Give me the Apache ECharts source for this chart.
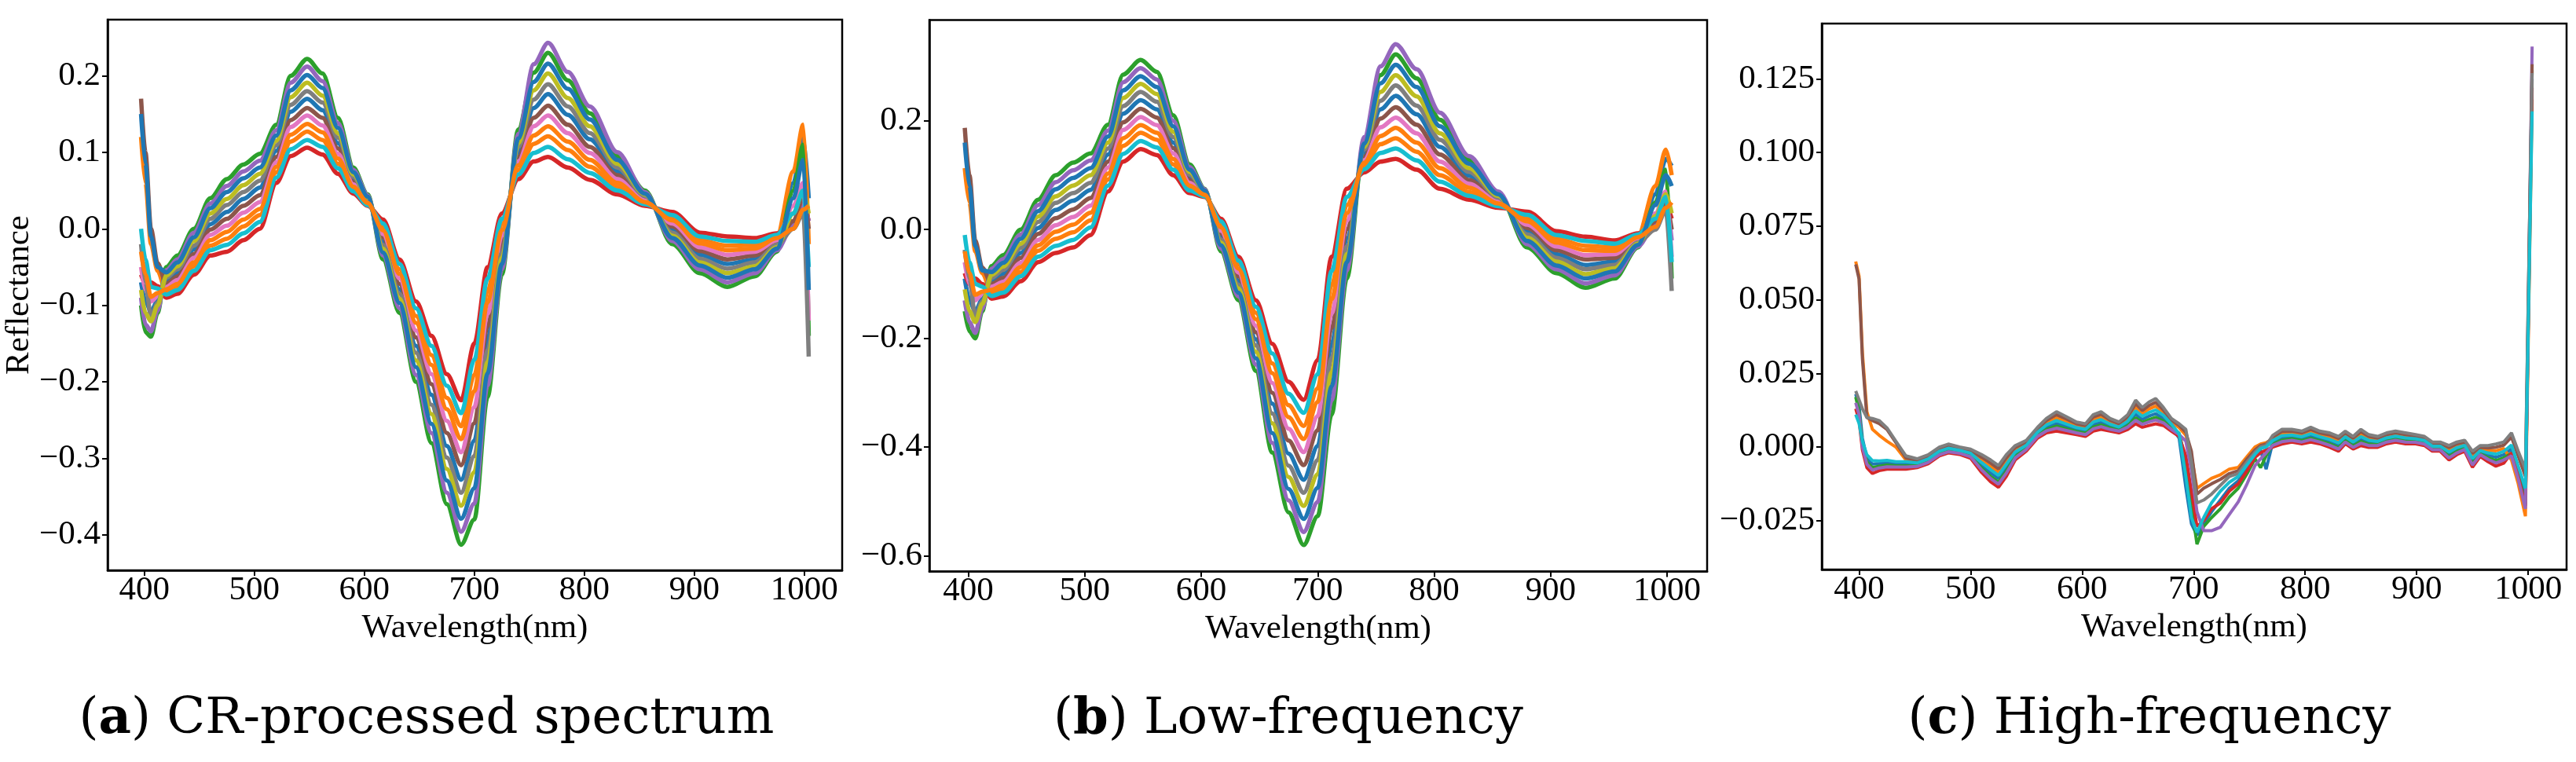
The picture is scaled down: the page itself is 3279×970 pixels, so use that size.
<!DOCTYPE html>
<html>
<head>
<meta charset="utf-8">
<script src="https://cdn.jsdelivr.net/npm/echarts@6/dist/echarts.min.js"></script>
<style>
html, body { margin: 0; padding: 0; background: #fff; }
#chart { width: 3279px; height: 970px; }
</style>
</head>
<body>
<div id="chart"></div>
<script>
// wavelength samples (nm) for the CR and low-frequency panels
var wlSmooth = [397, 401, 406, 412, 420, 430, 445, 460, 475, 490, 505, 520, 533, 548, 562, 576, 590, 603, 617, 632,
  647, 661, 675, 688, 700, 712, 725, 740, 754, 767, 785, 805, 830, 855, 880, 905, 930, 955, 975, 990, 999, 1004];
// wavelength samples (nm) for the high-frequency panel
var wlHigh = [397, 400, 403, 407, 412, 418, 425, 433, 442, 452, 462, 472, 480, 490, 500, 510, 518, 525, 532, 540,
  550, 560, 568, 577, 586, 595, 603, 610, 617, 625, 633, 641, 648, 654, 660, 666, 673, 680, 687, 693,
  698, 703, 709, 716, 724, 732, 740, 748, 755, 760, 765, 771, 779, 788, 797, 805, 813, 822, 830, 836,
  843, 850, 857, 865, 873, 881, 890, 899, 907, 914, 921, 929, 936, 943, 950, 957, 964, 971, 978, 985,
  991, 997.5, 1003.5];

var xTicks = [400, 500, 600, 700, 800, 900, 1000];
var crTicks = [-0.4, -0.3, -0.2, -0.1, 0, 0.1, 0.2];
var lowTicks = [-0.6, -0.4, -0.2, 0, 0.2];
var highTicks = [-0.025, 0, 0.025, 0.05, 0.075, 0.1, 0.125];

// (a) CR-processed spectrum, curves from shallow (cr0) to deep (cr11)
var cr0 = [-0.06, -0.072, -0.07, -0.075, -0.09, -0.085, -0.06, -0.035, -0.03, -0.015, 0.0, 0.06, 0.095, 0.106, 0.097, 0.072, 0.046, 0.03, 0.012, -0.04, -0.095, -0.14, -0.19, -0.224, -0.15, -0.05, 0.02, 0.065, 0.088, 0.094, 0.08, 0.064, 0.045, 0.03, 0.022, -0.005, -0.01, -0.012, -0.006, 0.01, 0.03, 0.01];
var cr1 = [0.0, -0.04, -0.076, -0.078, -0.086, -0.08, -0.055, -0.028, -0.021, -0.006, 0.009, 0.067, 0.104, 0.116, 0.107, 0.079, 0.049, 0.031, 0.007, -0.046, -0.104, -0.153, -0.205, -0.241, -0.171, -0.065, 0.013, 0.071, 0.099, 0.107, 0.091, 0.073, 0.05, 0.032, 0.018, -0.01, -0.016, -0.017, -0.008, 0.02, 0.05, -0.05];
var cr2 = [0.12, 0.06, -0.02, -0.055, -0.083, -0.076, -0.049, -0.022, -0.013, 0.003, 0.018, 0.074, 0.114, 0.127, 0.116, 0.085, 0.052, 0.033, 0.003, -0.053, -0.114, -0.165, -0.221, -0.258, -0.191, -0.081, 0.006, 0.077, 0.111, 0.121, 0.103, 0.081, 0.055, 0.034, 0.014, -0.015, -0.022, -0.021, -0.01, 0.075, 0.136, -0.02];
var cr3 = [-0.03, -0.06, -0.089, -0.084, -0.079, -0.072, -0.044, -0.015, -0.004, 0.012, 0.026, 0.081, 0.123, 0.137, 0.126, 0.092, 0.055, 0.034, -0.002, -0.059, -0.123, -0.178, -0.236, -0.275, -0.212, -0.096, -0.002, 0.083, 0.122, 0.134, 0.114, 0.09, 0.06, 0.035, 0.011, -0.019, -0.028, -0.026, -0.012, 0.0, 0.025, 0.03];
var cr4 = [-0.05, -0.08, -0.095, -0.088, -0.076, -0.067, -0.038, -0.008, 0.004, 0.021, 0.035, 0.087, 0.133, 0.148, 0.135, 0.098, 0.058, 0.035, -0.007, -0.065, -0.133, -0.19, -0.251, -0.292, -0.233, -0.111, -0.009, 0.088, 0.134, 0.148, 0.125, 0.099, 0.065, 0.037, 0.007, -0.024, -0.034, -0.03, -0.015, 0.03, 0.06, -0.12];
var cr5 = [0.17, 0.10, 0.0, -0.045, -0.072, -0.062, -0.033, -0.001, 0.013, 0.03, 0.044, 0.094, 0.142, 0.158, 0.145, 0.105, 0.061, 0.037, -0.011, -0.072, -0.142, -0.203, -0.267, -0.309, -0.254, -0.127, -0.016, 0.094, 0.145, 0.161, 0.136, 0.107, 0.07, 0.039, 0.003, -0.029, -0.04, -0.035, -0.017, 0.01, 0.04, 0.0];
var cr6 = [-0.07, -0.095, -0.108, -0.094, -0.068, -0.058, -0.027, 0.006, 0.022, 0.039, 0.054, 0.102, 0.153, 0.17, 0.155, 0.112, 0.065, 0.038, -0.017, -0.079, -0.153, -0.217, -0.284, -0.328, -0.277, -0.144, -0.024, 0.101, 0.158, 0.176, 0.149, 0.117, 0.075, 0.041, -0.001, -0.034, -0.046, -0.04, -0.019, 0.06, 0.12, 0.04];
var cr7 = [-0.02, -0.07, -0.115, -0.097, -0.064, -0.053, -0.022, 0.013, 0.031, 0.048, 0.063, 0.109, 0.162, 0.18, 0.165, 0.119, 0.068, 0.04, -0.021, -0.085, -0.162, -0.23, -0.299, -0.345, -0.297, -0.159, -0.031, 0.107, 0.169, 0.189, 0.16, 0.125, 0.08, 0.043, -0.005, -0.039, -0.052, -0.044, -0.021, 0.0, 0.02, -0.167];
var cr8 = [-0.08, -0.11, -0.121, -0.1, -0.061, -0.049, -0.016, 0.02, 0.039, 0.057, 0.072, 0.115, 0.172, 0.191, 0.174, 0.125, 0.071, 0.041, -0.026, -0.091, -0.172, -0.242, -0.314, -0.362, -0.318, -0.174, -0.038, 0.112, 0.181, 0.203, 0.171, 0.134, 0.085, 0.045, -0.009, -0.044, -0.058, -0.049, -0.024, 0.02, 0.05, 0.02];
var cr9 = [0.15, 0.085, -0.01, -0.05, -0.057, -0.044, -0.011, 0.027, 0.048, 0.066, 0.08, 0.122, 0.181, 0.201, 0.184, 0.132, 0.074, 0.042, -0.031, -0.097, -0.181, -0.255, -0.329, -0.379, -0.339, -0.189, -0.046, 0.118, 0.192, 0.216, 0.183, 0.143, 0.09, 0.046, -0.012, -0.048, -0.064, -0.053, -0.026, 0.04, 0.09, -0.08];
var cr10 = [-0.09, -0.125, -0.134, -0.107, -0.054, -0.04, -0.005, 0.033, 0.056, 0.075, 0.089, 0.129, 0.191, 0.212, 0.193, 0.138, 0.077, 0.044, -0.035, -0.104, -0.191, -0.267, -0.345, -0.396, -0.359, -0.205, -0.053, 0.124, 0.215, 0.243, 0.205, 0.16, 0.1, 0.048, -0.016, -0.053, -0.07, -0.058, -0.028, 0.005, 0.03, 0.01];
var cr11 = [-0.10, -0.135, -0.141, -0.11, -0.05, -0.035, 0.0, 0.04, 0.065, 0.084, 0.098, 0.136, 0.2, 0.222, 0.203, 0.145, 0.08, 0.045, -0.04, -0.11, -0.2, -0.28, -0.36, -0.413, -0.38, -0.22, -0.06, 0.13, 0.204, 0.23, 0.194, 0.151, 0.095, 0.05, -0.02, -0.058, -0.076, -0.062, -0.03, 0.05, 0.11, -0.14];

// (b) low-frequency part
var lf0 = [-0.08, -0.1, -0.09, -0.1, -0.127, -0.123, -0.095, -0.06, -0.043, -0.033, -0.01, 0.07, 0.125, 0.148, 0.137, 0.1, 0.067, 0.06, 0.02, -0.05, -0.13, -0.21, -0.28, -0.313, -0.24, -0.05, 0.075, 0.105, 0.125, 0.13, 0.11, 0.075, 0.055, 0.04, 0.033, -0.003, -0.013, -0.02, -0.007, 0.01, 0.045, 0.02];
var lf1 = [-0.01, -0.06, -0.1, -0.105, -0.122, -0.116, -0.086, -0.05, -0.03, -0.019, 0.004, 0.081, 0.139, 0.163, 0.151, 0.11, 0.072, 0.061, 0.015, -0.057, -0.142, -0.228, -0.302, -0.337, -0.266, -0.076, 0.06, 0.111, 0.141, 0.149, 0.127, 0.088, 0.062, 0.043, 0.027, -0.01, -0.021, -0.026, -0.009, 0.02, 0.06, -0.06];
var lf2 = [0.113, 0.05, -0.04, -0.08, -0.116, -0.109, -0.078, -0.039, -0.017, -0.005, 0.017, 0.092, 0.154, 0.178, 0.165, 0.12, 0.077, 0.063, 0.009, -0.064, -0.153, -0.246, -0.323, -0.361, -0.292, -0.102, 0.045, 0.117, 0.157, 0.168, 0.143, 0.1, 0.069, 0.045, 0.021, -0.017, -0.03, -0.033, -0.012, 0.08, 0.147, 0.1];
var lf3 = [-0.04, -0.08, -0.12, -0.114, -0.111, -0.102, -0.069, -0.029, -0.004, 0.009, 0.031, 0.103, 0.168, 0.192, 0.178, 0.13, 0.081, 0.064, 0.004, -0.072, -0.165, -0.264, -0.345, -0.385, -0.317, -0.128, 0.03, 0.123, 0.172, 0.187, 0.16, 0.113, 0.077, 0.048, 0.015, -0.024, -0.038, -0.039, -0.014, 0.005, 0.04, 0.05];
var lf4 = [-0.06, -0.1, -0.13, -0.118, -0.105, -0.096, -0.061, -0.019, 0.008, 0.023, 0.044, 0.114, 0.183, 0.207, 0.192, 0.14, 0.086, 0.065, -0.002, -0.079, -0.177, -0.282, -0.366, -0.409, -0.343, -0.154, 0.016, 0.128, 0.188, 0.206, 0.177, 0.125, 0.084, 0.051, 0.009, -0.031, -0.047, -0.045, -0.016, 0.03, 0.07, -0.05];
var lf5 = [0.187, 0.1, -0.02, -0.07, -0.1, -0.089, -0.052, -0.008, 0.021, 0.037, 0.058, 0.125, 0.197, 0.222, 0.206, 0.15, 0.091, 0.067, -0.007, -0.086, -0.189, -0.3, -0.388, -0.433, -0.369, -0.181, 0.001, 0.134, 0.204, 0.225, 0.193, 0.138, 0.091, 0.054, 0.003, -0.038, -0.055, -0.052, -0.019, 0.015, 0.05, 0.0];
var lf6 = [-0.09, -0.13, -0.15, -0.128, -0.094, -0.081, -0.043, 0.003, 0.036, 0.053, 0.073, 0.138, 0.213, 0.238, 0.221, 0.16, 0.096, 0.068, -0.013, -0.094, -0.202, -0.32, -0.412, -0.46, -0.398, -0.21, -0.016, 0.141, 0.221, 0.246, 0.212, 0.152, 0.099, 0.057, -0.003, -0.045, -0.065, -0.059, -0.021, 0.065, 0.13, 0.117];
var lf7 = [-0.037, -0.09, -0.16, -0.132, -0.089, -0.074, -0.034, 0.014, 0.049, 0.067, 0.086, 0.149, 0.227, 0.253, 0.235, 0.17, 0.101, 0.07, -0.018, -0.101, -0.213, -0.338, -0.434, -0.484, -0.424, -0.236, -0.031, 0.147, 0.237, 0.265, 0.228, 0.165, 0.106, 0.059, -0.009, -0.052, -0.073, -0.065, -0.024, 0.0, 0.035, -0.113];
var lf8 = [-0.11, -0.15, -0.17, -0.137, -0.083, -0.068, -0.026, 0.024, 0.061, 0.081, 0.1, 0.16, 0.242, 0.268, 0.249, 0.18, 0.106, 0.071, -0.024, -0.108, -0.225, -0.356, -0.455, -0.508, -0.45, -0.262, -0.045, 0.152, 0.253, 0.284, 0.245, 0.177, 0.113, 0.062, -0.015, -0.059, -0.082, -0.071, -0.026, 0.025, 0.065, 0.03];
var lf9 = [0.16, 0.08, -0.03, -0.075, -0.078, -0.061, -0.017, 0.034, 0.074, 0.095, 0.113, 0.171, 0.256, 0.282, 0.262, 0.19, 0.11, 0.072, -0.029, -0.116, -0.237, -0.374, -0.477, -0.532, -0.475, -0.288, -0.06, 0.158, 0.269, 0.303, 0.262, 0.19, 0.121, 0.065, -0.021, -0.066, -0.09, -0.077, -0.028, 0.045, 0.1, 0.08];
var lf10 = [-0.13, -0.17, -0.19, -0.146, -0.072, -0.054, -0.009, 0.045, 0.087, 0.109, 0.127, 0.182, 0.271, 0.297, 0.276, 0.2, 0.115, 0.074, -0.035, -0.123, -0.248, -0.392, -0.498, -0.556, -0.501, -0.314, -0.075, 0.17, 0.3, 0.341, 0.295, 0.215, 0.135, 0.07, -0.027, -0.073, -0.099, -0.084, -0.031, 0.01, 0.05, -0.02];
var lf11 = [-0.15, -0.187, -0.2, -0.15, -0.067, -0.047, 0.0, 0.055, 0.1, 0.123, 0.14, 0.193, 0.285, 0.312, 0.29, 0.21, 0.12, 0.075, -0.04, -0.13, -0.26, -0.41, -0.52, -0.58, -0.527, -0.34, -0.09, 0.164, 0.284, 0.322, 0.278, 0.202, 0.128, 0.067, -0.033, -0.08, -0.107, -0.09, -0.033, 0.05, 0.11, -0.09];

// (c) high-frequency part
var hfBlue = [0.018, 0.014, 0.003, -0.0038, -0.0058, -0.0056, -0.0053, -0.0057, -0.0057, -0.0058,
  -0.0045, -0.0018, -0.0008, -0.0015, -0.0026, -0.0063, -0.0088, -0.0107, -0.007, -0.0024,
  0.0001, 0.0045, 0.0068, 0.008, 0.007, 0.0059, 0.0053, 0.0076, 0.0084, 0.0071,
  0.0063, 0.008, 0.0111, 0.0094, 0.0105, 0.0113, 0.0097, 0.0071, 0.003, -0.0137,
  -0.026, -0.03, -0.026, -0.022, -0.018, -0.014, -0.0115, -0.007, -0.003, -0.001,
  -0.0075, 0.0016, 0.003, 0.0034, 0.0028, 0.0037, 0.0028, 0.0019, 0.0006, 0.0028,
  0.001, 0.0027, 0.0016, 0.0014, 0.0026, 0.0032, 0.0026, 0.0023, 0.0017, -0.0002,
  -0.0002, -0.0024, -0.0009, 0.0001, -0.0047, -0.0017, -0.0028, -0.0035, -0.0026, -0.0007,
  -0.008, -0.017, 0.125];
var hfOrange = [0.063, 0.058, 0.032, 0.012, 0.006, 0.004, 0.002, 0.0, -0.0044, -0.0049,
  -0.0035, -0.0009, 0.0001, -0.0008, -0.0016, -0.0044, -0.0066, -0.0085, -0.0048, -0.001,
  0.0012, 0.0056, 0.0082, 0.01, 0.0087, 0.0072, 0.0066, 0.0093, 0.0102, 0.0084,
  0.0074, 0.0095, 0.0135, 0.0114, 0.0129, 0.0139, 0.0116, 0.0084, 0.0066, 0.004,
  -0.003, -0.014, -0.0124, -0.0106, -0.0094, -0.0075, -0.0069, -0.0032, 0.0, 0.001,
  0.0015, 0.0028, 0.0045, 0.0047, 0.0041, 0.0052, 0.0041, 0.0033, 0.0021, 0.0041,
  0.0023, 0.0044, 0.0029, 0.0025, 0.0037, 0.0043, 0.0037, 0.0033, 0.0027, 0.0008,
  0.0008, -0.001, 0.0004, 0.0012, -0.0031, -0.0006, -0.0012, -0.0013, -0.0005, -0.0044,
  -0.0124, -0.0235, 0.118];
var hfGreen = [0.017, 0.012, 0.001, -0.005, -0.007, -0.0065, -0.0061, -0.0064, -0.0064, -0.0063,
  -0.0049, -0.0023, -0.0013, -0.0019, -0.003, -0.0072, -0.01, -0.0119, -0.0082, -0.0032,
  -0.0005, 0.0039, 0.006, 0.0071, 0.0062, 0.0053, 0.0047, 0.0068, 0.0075, 0.0065,
  0.0057, 0.0073, 0.0099, 0.0084, 0.0093, 0.0101, 0.0088, 0.0065, 0.0047, -0.005,
  -0.02, -0.033, -0.027, -0.024, -0.021, -0.017, -0.014, -0.009, -0.004, -0.007,
  -0.003, 0.001, 0.0023, 0.0028, 0.0022, 0.003, 0.0022, 0.0011, -0.0002, 0.0022,
  0.0004, 0.0019, 0.001, 0.0008, 0.002, 0.0026, 0.002, 0.0019, 0.0013, -0.0006,
  -0.0006, -0.0032, -0.0015, -0.0005, -0.0055, -0.0023, -0.0036, -0.0046, -0.0037, -0.0021,
  -0.0096, -0.0195, 0.128];
var hfRed = [0.013, 0.009, -0.001, -0.007, -0.009, -0.008, -0.0075, -0.0075, -0.0075, -0.007,
  -0.0057, -0.003, -0.002, -0.0025, -0.0038, -0.0087, -0.0118, -0.0137, -0.01, -0.0044,
  -0.0014, 0.003, 0.0048, 0.0054, 0.0048, 0.0042, 0.0036, 0.0054, 0.006, 0.0054,
  0.0048, 0.006, 0.0079, 0.0067, 0.0073, 0.0079, 0.0073, 0.0054, 0.0036, -0.003,
  -0.015, -0.027, -0.025, -0.021, -0.019, -0.015, -0.0125, -0.008, -0.0035, -0.002,
  -0.001, 0.0, 0.001, 0.0017, 0.0011, 0.0017, 0.0011, -0.0001, -0.0014, 0.0011,
  -0.0007, 0.0005, -0.0001, -0.0001, 0.0011, 0.0017, 0.0011, 0.0011, 0.0005, -0.0014,
  -0.0014, -0.0044, -0.0026, -0.0014, -0.0069, -0.0032, -0.005, -0.0065, -0.0055, -0.002,
  -0.01, -0.02, 0.122];
var hfPurple = [0.015, 0.011, 0.0, -0.0058, -0.0078, -0.0071, -0.0067, -0.0068, -0.0068, -0.0066,
  -0.0052, -0.0026, -0.0016, -0.0021, -0.0033, -0.0078, -0.0107, -0.0126, -0.0089, -0.0037,
  -0.0008, 0.0036, 0.0055, 0.0064, 0.0056, 0.0048, 0.0042, 0.0062, 0.0069, 0.006,
  0.0054, 0.0068, 0.0091, 0.0077, 0.0085, 0.0092, 0.0082, 0.006, 0.0042, 0.002,
  -0.008, -0.022, -0.0284, -0.0284, -0.0272, -0.0229, -0.0186, -0.0124, -0.0063, -0.004,
  -0.002, 0.0006, 0.0018, 0.0023, 0.0017, 0.0025, 0.0017, 0.0006, -0.0007, 0.0017,
  -0.0001, 0.0013, 0.0005, 0.0005, 0.0017, 0.0023, 0.0017, 0.0016, 0.001, -0.0009,
  -0.0009, -0.0037, -0.002, -0.0008, -0.0061, -0.0026, -0.0042, -0.0054, -0.0044, -0.003,
  -0.0108, -0.021, 0.136];
var hfBrown = [0.062, 0.057, 0.03, 0.01, 0.009, 0.008, 0.006, 0.0015, -0.0037, -0.0045,
  -0.0031, -0.0005, 0.0006, -0.0004, -0.0012, -0.0035, -0.0055, -0.0074, -0.0037, -0.0002,
  0.0017, 0.0061, 0.009, 0.011, 0.0095, 0.0079, 0.0073, 0.0102, 0.0111, 0.0091,
  0.0079, 0.0103, 0.0147, 0.0124, 0.0141, 0.0152, 0.0125, 0.0091, 0.0073, 0.005,
  -0.0014, -0.016, -0.014, -0.0125, -0.011, -0.009, -0.008, -0.004, -0.001, 0.0005,
  0.001, 0.0034, 0.0053, 0.0054, 0.0048, 0.006, 0.0048, 0.0041, 0.0029, 0.0048,
  0.003, 0.0052, 0.0036, 0.003, 0.0042, 0.0048, 0.0042, 0.0037, 0.0031, 0.0012,
  0.0012, -0.0002, 0.0011, 0.0017, -0.0022, -0.0001, -0.0003, -0.0001, 0.0006, 0.0034,
  -0.003, -0.01, 0.13];
var hfGray = [0.019, 0.016, 0.013, 0.01, 0.0097, 0.009, 0.0065, 0.002, -0.003, -0.004,
  -0.0026, 0.0, 0.001, 0.0, -0.0007, -0.0026, -0.0044, -0.0063, -0.0026, 0.0005,
  0.0023, 0.0067, 0.0097, 0.012, 0.0103, 0.0085, 0.0079, 0.011, 0.012, 0.0097,
  0.0085, 0.011, 0.0159, 0.0134, 0.0153, 0.0165, 0.0134, 0.0097, 0.0079, 0.006,
  -0.005, -0.019, -0.018, -0.016, -0.013, -0.01, -0.009, -0.005, -0.0018, 0.0,
  0.0005, 0.004, 0.006, 0.006, 0.0054, 0.0067, 0.0054, 0.0048, 0.0036, 0.0054,
  0.0036, 0.006, 0.0042, 0.0036, 0.0048, 0.0054, 0.0048, 0.0042, 0.0036, 0.0017,
  0.0017, 0.0005, 0.0017, 0.0023, -0.0014, 0.0005, 0.0005, 0.001, 0.0017, 0.0048,
  -0.0014, -0.0075, 0.127];
var hfCyan = [0.011, 0.008, 0.002, -0.0026, -0.0046, -0.0047, -0.0045, -0.005, -0.005, -0.0054,
  -0.004, -0.0014, -0.0004, -0.0011, -0.0021, -0.0053, -0.0077, -0.0096, -0.0059, -0.0017,
  0.0006, 0.005, 0.0075, 0.009, 0.0078, 0.0066, 0.006, 0.0085, 0.0093, 0.0078,
  0.0068, 0.0088, 0.0123, 0.0104, 0.0117, 0.0126, 0.0107, 0.0078, 0.0045, -0.01,
  -0.024, -0.029, -0.024, -0.019, -0.015, -0.012, -0.01, -0.006, -0.0025, -0.0005,
  0.0, 0.0022, 0.0038, 0.0041, 0.0035, 0.0045, 0.0035, 0.0026, 0.0014, 0.0035,
  0.0017, 0.0035, 0.0023, 0.0019, 0.0031, 0.0037, 0.0031, 0.0028, 0.0022, 0.0003,
  0.0003, -0.0017, -0.0002, 0.0006, -0.0039, -0.0012, -0.002, -0.0024, -0.0015, 0.0007,
  -0.0064, -0.014, 0.114];

// matplotlib tab10 cycle
var tab10 = ['#1f77b4', '#ff7f0e', '#2ca02c', '#d62728', '#9467bd', '#8c564b', '#e377c2', '#7f7f7f', '#bcbd22', '#17becf'];

var crLines = [cr6, cr2, cr11, cr0, cr10, cr5, cr4, cr7, cr8, cr1, cr9, cr3];
var lfLines = [lf6, lf2, lf11, lf0, lf10, lf5, lf4, lf7, lf8, lf1, lf9, lf3];
var hfLines = [hfBlue, hfOrange, hfGreen, hfRed, hfPurple, hfBrown, hfGray, hfCyan];
var hfColors = ['#1f77b4', '#ff7f0e', '#2ca02c', '#d62728', '#9467bd', '#8c564b', '#7f7f7f', '#17becf'];

var tickFont = 'Liberation Serif';
var capFont = 'DejaVu Serif';

function fmt(digits) {
    return function (v) {
        var s = Math.abs(v).toFixed(digits);
        return v < -1e-9 ? '\u2212' + s : s;
    };
}

function gridBox(left, top, width, height) {
    return {
        left: left, top: top, width: width, height: height,
        show: true, borderColor: '#000', borderWidth: 2.5,
        containLabel: false, outerBoundsMode: 'none'
    };
}

function xAxisFor(gi) {
    return {
        type: 'value', gridIndex: gi, min: 366.6, max: 1034.4,
        name: 'Wavelength(nm)', nameLocation: 'middle', nameGap: 49,
        nameTextStyle: { fontFamily: tickFont, fontSize: 43, color: '#000' },
        axisLine: { show: true, onZero: false, lineStyle: { color: '#000', width: 2.5 } },
        axisTick: { show: true, inside: false, length: 7, lineStyle: { color: '#000', width: 2 }, customValues: xTicks },
        axisLabel: { customValues: xTicks, formatter: fmt(0), fontFamily: tickFont, fontSize: 43, color: '#000', margin: 4,
            showMinLabel: true, showMaxLabel: true },
        splitLine: { show: false }
    };
}

function yAxisFor(gi, min, max, ticks, digits, name) {
    return {
        type: 'value', gridIndex: gi, min: min, max: max,
        name: name || '', nameLocation: 'middle', nameGap: 87, nameRotate: 90,
        nameTextStyle: { fontFamily: tickFont, fontSize: 43, color: '#000' },
        axisLine: { show: true, onZero: false, lineStyle: { color: '#000', width: 2.5 } },
        axisTick: { show: true, inside: false, length: 7, lineStyle: { color: '#000', width: 2 }, customValues: ticks },
        axisLabel: { customValues: ticks, formatter: fmt(digits), fontFamily: tickFont, fontSize: 43, color: '#000',
            margin: 9, showMinLabel: true, showMaxLabel: true },
        splitLine: { show: false }
    };
}

function lineSeries(gi, xs, ys, color, smooth, width) {
    return {
        type: 'line', xAxisIndex: gi, yAxisIndex: gi,
        data: xs.map(function (x, i) { return [x, ys[i]]; }),
        symbol: 'none', showSymbol: false, smooth: smooth, smoothMonotone: 'x',
        lineStyle: { width: width, color: color }, itemStyle: { color: color },
        emphasis: { disabled: true }, silent: true
    };
}

var series = [];
crLines.forEach(function (ys, i) { series.push(lineSeries(0, wlSmooth, ys, tab10[i % 10], 0.3, 5.5)); });
lfLines.forEach(function (ys, i) { series.push(lineSeries(1, wlSmooth, ys, tab10[i % 10], 0.3, 5.5)); });
hfLines.forEach(function (ys, i) { series.push(lineSeries(2, wlHigh, ys, hfColors[i], false, 4)); });

function caption(cx, letter, text) {
    return {
        type: 'text', x: cx, y: 884, silent: true,
        style: {
            text: '({b|' + letter + '}) ' + text,
            fontFamily: capFont, fontSize: 64, fill: '#000',
            align: 'center', verticalAlign: 'top',
            rich: { b: { fontFamily: capFont, fontSize: 64, fontWeight: 'bold', fill: '#000' } }
        }
    };
}

var chart = echarts.init(document.getElementById('chart'), null, { renderer: 'canvas' });
chart.setOption({
    animation: false,
    backgroundColor: '#fff',
    grid: [
        gridBox(137, 25, 935, 701),
        gridBox(1183, 25.5, 990, 702),
        gridBox(2319, 30, 948, 695)
    ],
    xAxis: [xAxisFor(0), xAxisFor(1), xAxisFor(2)],
    yAxis: [
        yAxisFor(0, -0.4464, 0.2734, crTicks, 1, 'Reflectance'),
        yAxisFor(1, -0.6287, 0.3853, lowTicks, 1),
        yAxisFor(2, -0.0416, 0.1438, highTicks, 3)
    ],
    series: series,
    graphic: [
        caption(543, 'a', 'CR-processed spectrum'),
        caption(1640, 'b', 'Low-frequency'),
        caption(2736, 'c', 'High-frequency')
    ]
});
</script>
</body>
</html>
